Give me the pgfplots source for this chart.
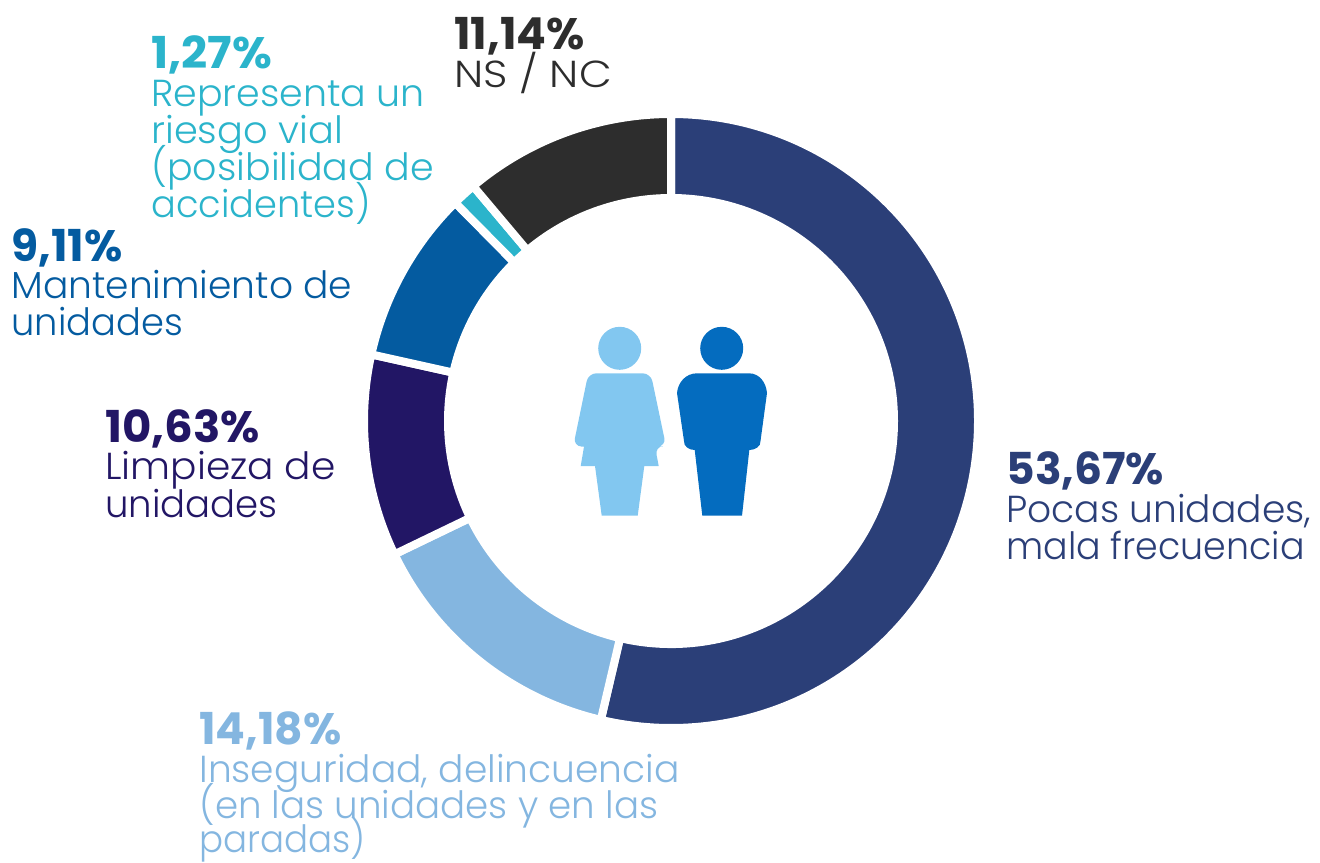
\documentclass[border=0pt]{standalone}
\usepackage{pgfplots}
\pgfplotsset{compat=1.18}
\usepackage{fontspec}
\setmainfont{Poppins}[UprightFont=* Light,BoldFont=* Bold]
\definecolor{cNavy}{HTML}{2B3F78}
\definecolor{cLight}{HTML}{84B6E0}
\definecolor{cIndigo}{HTML}{221665}
\definecolor{cBlue}{HTML}{045BA0}
\definecolor{cTeal}{HTML}{2BB4CB}
\definecolor{cDark}{HTML}{2D2D2D}
\definecolor{cWoman}{HTML}{82C7F0}
\definecolor{cMan}{HTML}{046CBF}
% 1 px of the reference = 0.5 pt
\def\Router{153.5pt}
\def\Rinner{111.5pt}
\pgfdeclareplotmark{donutseg}{%
  \pgfmathsetmacro\angA{90-3.6*\segstart}%
  \pgfmathsetmacro\angB{90-3.6*(\segstart+\segshare)}%
  \pgfpathmoveto{\pgfpointpolar{\angA}{\Router}}%
  \pgfpatharc{\angA}{\angB}{\Router}%
  \pgfpathlineto{\pgfpointpolar{\angB}{\Rinner}}%
  \pgfpatharc{\angB}{\angA}{\Rinner}%
  \pgfpathclose
  \pgfusepathqfillstroke
}
\pgfplotsset{seg/.style={scatter,only marks,mark=donutseg,
  point meta=\thisrow{share},point meta min=0,point meta max=100,
  visualization depends on={\thisrow{start}\as\segstart},
  visualization depends on={\thisrow{share}\as\segshare},
  scatter/use mapped color={fill=#1,draw=white,line width=4pt}}}
\newcommand{\pct}[5][1]{\node[anchor=base west,inner sep=0pt,text=#4,xscale=#1] at (axis cs:#2,#3) {\fontsize{22}{22}\selectfont\bfseries #5};}
\newcommand{\lab}[5][1]{\node[anchor=base west,inner sep=0pt,text=#4,xscale=#1] at (axis cs:#2,#3) {\fontsize{18.8}{18.8}\selectfont #5};}
\begin{document}
\begin{tikzpicture}
\useasboundingbox (0,0) rectangle (660pt,431pt);
\begin{axis}[scale only axis,width=660pt,height=431pt,
  xmin=0,xmax=1320,ymin=0,ymax=862,y dir=reverse,
  axis lines=none,clip=false]
\addplot[seg=cNavy] table[row sep=\\] {x y start share\\ 671 421 0 53.67\\};
\addplot[seg=cLight] table[row sep=\\] {x y start share\\ 671 421 53.67 14.18\\};
\addplot[seg=cIndigo] table[row sep=\\] {x y start share\\ 671 421 67.85 10.63\\};
\addplot[seg=cBlue] table[row sep=\\] {x y start share\\ 671 421 78.48 9.11\\};
\addplot[seg=cTeal] table[row sep=\\] {x y start share\\ 671 421 87.59 1.27\\};
\addplot[seg=cDark] table[row sep=\\] {x y start share\\ 671 421 88.86 11.14\\};
% people
\fill[cWoman] (axis cs:619.7,348.3) circle[radius=10.75pt];
\fill[cMan] (axis cs:721.7,348.3) circle[radius=10.75pt];
\fill[cWoman,rounded corners=4pt] (axis cs:588.3,373.3) -- (axis cs:650.7,373.3) -- (axis cs:666,446) -- (axis cs:655,446.7) [sharp corners] -- (axis cs:658.7,466) -- (axis cs:644.3,466) -- (axis cs:637.7,515.7) -- (axis cs:601.7,515.7) -- (axis cs:595,466) -- (axis cs:580.7,466) -- (axis cs:584,446.7) [rounded corners=4pt] -- (axis cs:573.3,446) -- cycle;
\fill[cMan] (axis cs:697,373.3) -- (axis cs:749,373.3) to[out=0,in=95] (axis cs:767,393) -- (axis cs:760.5,441) to[out=-85,in=0] (axis cs:749.3,450) -- (axis cs:742,515.7) -- (axis cs:702.3,515.7) -- (axis cs:694.7,450) to[out=180,in=-95] (axis cs:684,441) -- (axis cs:677,393) to[out=85,in=180] (axis cs:697,373.3) -- cycle;
% labels
\pct{1006}{484}{cNavy}{53,67\%}
\lab{1006}{522}{cNavy}{Pocas unidades,}
\lab[0.967]{1006}{559}{cNavy}{mala frecuencia}
\pct{199}{744}{cLight}{14,18\%}
\lab{199}{782}{cLight}{Inseguridad, delincuencia}
\lab[0.99]{199}{818}{cLight}{(en las unidades y en las}
\lab[0.948]{199}{852}{cLight}{paradas)}
\pct[1.025]{105}{442}{cIndigo}{10,63\%}
\lab[1.04]{105}{479}{cIndigo}{Limpieza de}
\lab[0.985]{105}{517}{cIndigo}{unidades}
\pct{11}{261}{cBlue}{9,11\%}
\lab{11}{298}{cBlue}{Mantenimiento de}
\lab[0.98]{11}{335}{cBlue}{unidades}
\pct[1.04]{151}{68}{cTeal}{1,27\%}
\lab[1.01]{151}{106}{cTeal}{Representa un}
\lab[1.02]{151}{143}{cTeal}{riesgo vial}
\lab[1.01]{151}{180}{cTeal}{(posibilidad de}
\lab[0.977]{151}{217}{cTeal}{accidentes)}
\pct{454}{49}{cDark}{11,14\%}
\lab[1.13]{454}{87}{cDark}{NS / NC}
\end{axis}
\end{tikzpicture}
\end{document}
